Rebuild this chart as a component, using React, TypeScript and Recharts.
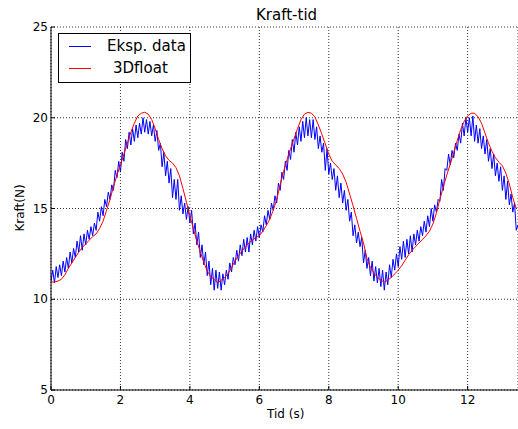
import { LineChart, Line, XAxis, YAxis, CartesianGrid } from 'recharts';

// sample step of the two series (s)
const EKSP_DT = 0.05;
const MODEL_DT = 0.1;

// measured force (N), one value every 0.05 s
const eksp: number[] = [
  11.0, 11.6, 10.9, 11.8, 11.2, 11.9, 11.3, 12.1, 11.5, 12.3, 11.7, 12.6, 12.0, 12.8, 12.3, 13.2, 12.6, 13.5, 12.7, 13.6,
  13.0, 13.8, 13.3, 14.0, 13.5, 14.2, 13.8, 14.8, 14.3, 15.1, 14.6, 15.5, 15.1, 15.9, 15.5, 16.3, 16.0, 17.1, 16.7, 17.6,
  17.0, 18.1, 17.6, 18.8, 18.3, 19.2, 18.5, 19.4, 18.7, 19.6, 18.9, 19.7, 19.1, 20.0, 19.2, 19.9, 19.1, 19.8, 19.0, 19.6,
  18.7, 19.3, 18.2, 18.6, 17.3, 18.1, 16.8, 17.6, 16.4, 17.2, 15.6, 16.6, 15.5, 16.6, 14.9, 15.7, 14.7, 15.3, 14.4, 15.1,
  14.2, 14.9, 13.6, 14.2, 13.0, 13.7, 12.3, 13.0, 11.9, 12.6, 11.3, 12.1, 10.8, 11.7, 10.5, 11.6, 10.6, 11.5, 10.5, 11.4,
  10.8, 11.6, 11.1, 12.0, 11.5, 12.3, 11.9, 12.7, 12.1, 13.0, 12.4, 13.3, 12.6, 13.4, 12.6, 13.6, 13.0, 13.8, 13.2, 14.0,
  13.4, 14.1, 13.7, 14.6, 14.1, 14.9, 14.4, 15.3, 14.9, 15.7, 15.3, 16.4, 16.0, 17.0, 16.6, 17.6, 17.1, 18.2, 17.7, 18.8,
  18.1, 19.2, 18.5, 19.5, 18.7, 19.8, 18.9, 20.0, 19.0, 19.9, 18.9, 19.9, 18.8, 19.5, 18.3, 19.0, 18.1, 18.6, 17.1, 18.3,
  16.9, 17.5, 16.6, 17.2, 16.0, 16.8, 15.6, 16.4, 15.3, 16.0, 14.9, 15.5, 14.3, 14.8, 13.5, 14.1, 13.1, 13.7, 12.9, 13.4,
  12.0, 12.7, 11.7, 12.3, 11.3, 12.1, 11.0, 11.8, 10.9, 11.7, 10.7, 11.6, 10.5, 11.5, 10.8, 11.9, 11.2, 12.2, 11.6, 12.5,
  11.8, 12.9, 12.2, 13.2, 12.3, 13.3, 12.5, 13.5, 12.6, 13.6, 13.0, 13.8, 13.2, 14.0, 13.5, 14.3, 13.7, 14.6, 14.0, 15.0,
  14.3, 15.2, 14.8, 15.5, 15.4, 16.6, 16.0, 17.2, 17.1, 18.0, 17.4, 18.2, 17.8, 18.6, 18.2, 19.1, 18.6, 19.7, 19.0, 20.0,
  19.2, 20.0, 19.0, 20.1, 18.7, 19.6, 18.6, 19.4, 18.3, 19.0, 18.0, 18.8, 17.6, 18.3, 17.2, 18.0, 16.8, 17.5, 16.5, 17.3,
  16.0, 16.8, 15.5, 16.5, 15.2, 15.8, 14.8, 15.3, 13.8, 14.1,
];

// 3Dfloat simulation (N), one value every 0.1 s
const model: number[] = [
  10.95, 10.95, 11.0, 11.1, 11.35, 11.7, 12.0, 12.3, 12.6, 12.85,
  13.05, 13.25, 13.45, 13.6, 13.9, 14.3, 14.9, 15.5, 16.2, 16.85,
  17.4, 18.0, 18.6, 19.2, 19.7, 20.1, 20.25, 20.3, 20.2, 19.9,
  19.4, 18.8, 18.3, 17.9, 17.65, 17.5, 17.25, 16.8, 16.1, 15.35,
  14.6, 13.9, 13.2, 12.6, 12.05, 11.55, 11.25, 11.1, 10.9, 11.05,
  11.2, 11.4, 11.75, 12.1, 12.4, 12.65, 12.9, 13.1, 13.25, 13.4,
  13.5, 13.75, 14.05, 14.4, 14.9, 15.5, 16.3, 17.05, 17.7, 18.3,
  18.85, 19.4, 19.9, 20.2, 20.3, 20.25, 20.05, 19.6, 19.1, 18.55,
  18.0, 17.6, 17.4, 17.2, 16.9, 16.45, 15.8, 15.15, 14.45, 13.75,
  13.1, 12.25, 11.75, 11.45, 11.2, 11.05, 10.95, 11.05, 11.2, 11.4,
  11.6, 11.85, 12.15, 12.45, 12.7, 12.9, 13.1, 13.3, 13.5, 13.75,
  14.15, 14.75, 15.5, 16.2, 16.85, 17.45, 18.1, 18.75, 19.35, 19.8,
  20.1, 20.25, 20.25, 20.05, 19.7, 19.15, 18.6, 18.15, 17.8, 17.55,
  17.35, 16.95, 16.35, 15.6, 15.0,
];

const xTicks = [0, 2, 4, 6, 8, 10, 12];
const yTicks = [5, 10, 15, 20, 25];

const eksData = eksp.map((f, i) => ({ t: +(i * EKSP_DT).toFixed(2), f }));
const modelData = model.map((f, i) => ({ t: +(i * MODEL_DT).toFixed(2), f }));

const FONT = '"DejaVu Sans", sans-serif';

// matplotlib style: ticks point into the plot
const BottomTick = ({ x, y, payload }: any) => (
  <g>
    <line x1={x} x2={x} y1={y} y2={y - 4} stroke="#000" />
    <text x={x} y={y + 14} textAnchor="middle" fontSize={12} fontFamily={FONT} fill="#000">
      {payload.value}
    </text>
  </g>
);
const TopTick = ({ x, y }: any) => (
  <line x1={x} x2={x} y1={y} y2={y + 4} stroke="#000" />
);
const LeftTick = ({ x, y, payload }: any) => (
  <g>
    <line x1={x} x2={x + 4} y1={y} y2={y} stroke="#000" />
    <text x={x - 3} y={y + 4} textAnchor="end" fontSize={12} fontFamily={FONT} fill="#000">
      {payload.value}
    </text>
  </g>
);
const RightTick = ({ x, y }: any) => (
  <line x1={x} x2={x - 4} y1={y} y2={y} stroke="#000" />
);

export default function App() {
  return (
    <div style={{ position: 'absolute', left: 0, top: 0, width: 518, height: 429, background: '#fff', fontFamily: FONT }}>
      <LineChart width={518} height={429} margin={{ top: 27, right: 0, bottom: 0, left: 0 }}>
        <CartesianGrid xAxisId="b" yAxisId="l" stroke="#000" strokeDasharray="1 2" strokeWidth={0.8} />
        <XAxis
          xAxisId="b"
          dataKey="t"
          type="number"
          domain={[0, 13.45]}
          ticks={xTicks}
          allowDataOverflow
          height={39}
          tickLine={false}
          tickSize={0}
          tickMargin={0}
          axisLine={{ stroke: '#000' }}
          tick={<BottomTick />}
        />
        <XAxis
          xAxisId="top"
          orientation="top"
          dataKey="t"
          type="number"
          domain={[0, 13.45]}
          ticks={xTicks}
          allowDataOverflow
          height={0}
          tickLine={false}
          tickSize={0}
          tickMargin={0}
          axisLine={{ stroke: '#000' }}
          tick={<TopTick />}
        />
        <YAxis
          yAxisId="l"
          type="number"
          domain={[5, 25]}
          ticks={yTicks}
          width={51}
          tickLine={false}
          tickSize={0}
          tickMargin={0}
          axisLine={{ stroke: '#000' }}
          tick={<LeftTick />}
        />
        <YAxis
          yAxisId="r"
          orientation="right"
          type="number"
          domain={[5, 25]}
          ticks={yTicks}
          width={0}
          tickLine={false}
          tickSize={0}
          tickMargin={0}
          axisLine={false}
          tick={<RightTick />}
        />
        <Line
          xAxisId="b"
          yAxisId="l"
          data={eksData}
          dataKey="f"
          type="linear"
          stroke="#0000ff"
          strokeWidth={1}
          dot={false}
          isAnimationActive={false}
        />
        <Line
          xAxisId="b"
          yAxisId="l"
          data={modelData}
          dataKey="f"
          type="linear"
          stroke="#ff0000"
          strokeWidth={1}
          dot={false}
          isAnimationActive={false}
        />
      </LineChart>

      <div style={{ position: 'absolute', left: 256, top: 6, width: 62, fontSize: 15, lineHeight: '18px', whiteSpace: 'nowrap' }}>
        Kraft-tid
      </div>
      <div style={{ position: 'absolute', left: 267, top: 407, fontSize: 12, lineHeight: '15px', whiteSpace: 'nowrap' }}>
        Tid (s)
      </div>
      <div
        style={{
          position: 'absolute',
          left: 20,
          top: 208,
          fontSize: 12,
          lineHeight: '15px',
          whiteSpace: 'nowrap',
          transform: 'translate(-50%, -50%) rotate(-90deg)',
        }}
      >
        Kraft(N)
      </div>

      <div
        style={{
          position: 'absolute',
          left: 58,
          top: 33,
          width: 131,
          height: 48,
          border: '1px solid #000',
          background: '#fff',
          fontSize: 15,
        }}
      >
        <div style={{ position: 'absolute', left: 10, top: 12, width: 22, height: 1, background: '#0000ff' }} />
        <div style={{ position: 'absolute', left: 48, top: 3, lineHeight: '18px', whiteSpace: 'nowrap' }}>Eksp. data</div>
        <div style={{ position: 'absolute', left: 10, top: 34, width: 22, height: 1, background: '#ff0000' }} />
        <div style={{ position: 'absolute', left: 54, top: 25, lineHeight: '18px', whiteSpace: 'nowrap' }}>3Dfloat</div>
      </div>
    </div>
  );
}
